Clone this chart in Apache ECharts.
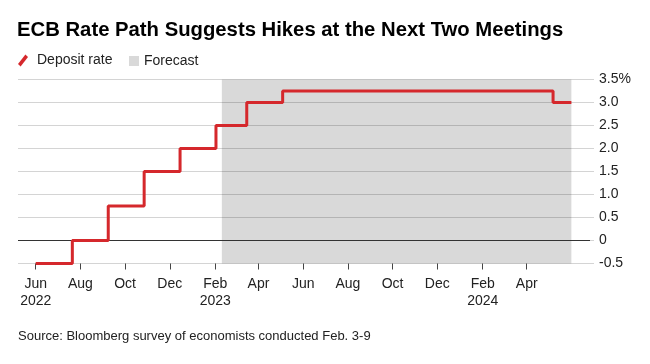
<!DOCTYPE html>
<html>
<head>
<meta charset="utf-8">
<script src="https://cdn.jsdelivr.net/npm/echarts@6/dist/echarts.min.js"></script>
<style>
  html, body { margin: 0; padding: 0; background: #fff; }
  #chart { width: 650px; height: 364px; }
</style>
</head>
<body>
<div id="chart"></div>
<script>
// ---- Data ----
const changeDates = ['2022-06-01', '2022-07-21', '2022-09-08', '2022-10-27', '2022-12-15',
                     '2023-02-02', '2023-03-16', '2023-05-04', '2024-05-07', '2024-06-01'];
const depositRate = [-0.5, 0, 0.75, 1.5, 2.0, 2.5, 3.0, 3.25, 3.0, 3.0];
const forecastStart = '2023-02-10';
const forecastEnd = '2024-06-01';
const tickDates = ['2022-06-01', '2022-08-01', '2022-10-01', '2022-12-01', '2023-02-01', '2023-04-01',
                   '2023-06-01', '2023-08-01', '2023-10-01', '2023-12-01', '2024-02-01', '2024-04-01'];
const tickLabels = ['Jun\n2022', 'Aug', 'Oct', 'Dec', 'Feb\n2023', 'Apr',
                    'Jun', 'Aug', 'Oct', 'Dec', 'Feb\n2024', 'Apr'];
const yMin = -0.5, yMax = 3.5, yStep = 0.5;
const titleText = 'ECB Rate Path Suggests Hikes at the Next Two Meetings';
const sourceText = 'Source: Bloomberg survey of economists conducted Feb. 3-9';

// ---- Helpers ----
const DAY = 86400000;
function t(s) { const p = s.split('-').map(Number); return Date.UTC(p[0], p[1] - 1, p[2]); }
const tickValues = tickDates.map(t);
const lineData = changeDates.map((d, i) => [t(d), depositRate[i]]);
const FONT = '"Liberation Sans", Arial, Helvetica, sans-serif';
const RED = '#d5282c';

const chart = echarts.init(document.getElementById('chart'), null, { renderer: 'canvas' });
chart.setOption({
  animation: false,
  backgroundColor: '#ffffff',
  textStyle: { fontFamily: FONT },
  title: [
    { text: titleText, left: 17, top: 20, padding: 0,
      textStyle: { fontFamily: FONT, fontSize: 20.3, fontWeight: 'bold', color: '#000' } },
    { text: sourceText, left: 18, top: 330, padding: 0,
      textStyle: { fontFamily: FONT, fontSize: 13, fontWeight: 'normal', color: '#222' } }
  ],
  legend: [
    { data: ['Deposit rate'], left: 18, top: 53.5, padding: 0, itemWidth: 10, itemHeight: 13,
      icon: 'path://M0,9.6 L7.4,0 L10,2.4 L2.6,12 Z',
      textStyle: { fontFamily: FONT, fontSize: 14, color: '#222', padding: [0, 0, 0, 4] } },
    { data: ['Forecast'], left: 129, top: 54, padding: 0, itemWidth: 10, itemHeight: 10,
      icon: 'rect',
      textStyle: { fontFamily: FONT, fontSize: 14, color: '#222' } }
  ],
  grid: { left: 18, right: 60, top: 79.5, bottom: 100.5, containLabel: false, outerBoundsMode: 'none' },
  xAxis: {
    type: 'value',
    min: t('2022-06-01') - 24.15 * DAY,
    max: t('2022-06-01') + 756.4 * DAY,
    axisLine: { show: false, onZero: false },
    splitLine: { show: false },
    axisTick: { show: true, customValues: tickValues, length: 6, lineStyle: { color: '#444', width: 1 } },
    axisLabel: {
      customValues: tickValues,
      fontFamily: FONT, fontSize: 14, color: '#222', lineHeight: 17, margin: 12,
      showMinLabel: true, showMaxLabel: true,
      formatter: function (v) {
        const i = tickValues.indexOf(v);
        return i >= 0 ? tickLabels[i] : '';
      }
    }
  },
  yAxis: {
    type: 'value',
    position: 'right',
    min: yMin, max: yMax, interval: yStep,
    axisLine: { show: false },
    axisTick: { show: true, length: 4, lineStyle: { color: '#d4d4d4' } },
    splitLine: { lineStyle: { color: '#d4d4d4', width: 1 } },
    axisLabel: {
      fontFamily: FONT, fontSize: 14, color: '#222', margin: 9,
      formatter: function (v) {
        if (Math.abs(v - yMax) < 1e-9) return v.toFixed(1) + '%';
        if (v === 0) return '0';
        return v.toFixed(1);
      }
    }
  },
  series: [
    {
      name: 'Forecast',
      type: 'line',
      data: [],
      color: '#d9d9d9',
      itemStyle: { color: '#d9d9d9' },
      markArea: {
        silent: true,
        itemStyle: { color: 'rgba(0,0,0,0.15)' },
        data: [[{ xAxis: t(forecastStart) }, { xAxis: t(forecastEnd) }]]
      }
    },
    {
      name: 'Deposit rate',
      type: 'line',
      step: 'end',
      data: lineData,
      showSymbol: false,
      color: RED,
      itemStyle: { color: RED },
      lineStyle: { color: RED, width: 3 },
      z: 5,
      markLine: {
        silent: true,
        symbol: 'none',
        label: { show: false },
        lineStyle: { color: '#333', width: 1, type: 'solid' },
        data: [{ yAxis: 0 }],
        z: 3
      }
    }
  ]
});
</script>
</body>
</html>
